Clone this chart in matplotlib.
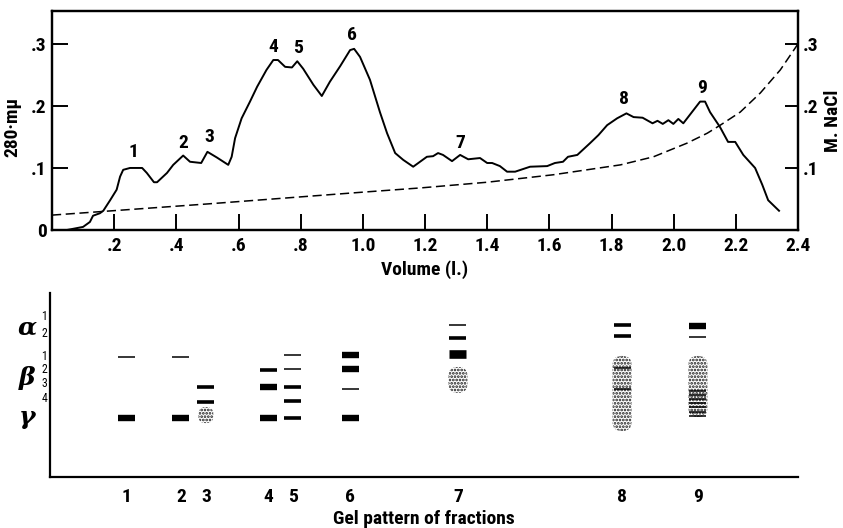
import matplotlib
matplotlib.use("Agg")
import matplotlib.pyplot as plt
from matplotlib.patches import FancyBboxPatch
from matplotlib import font_manager

# ---------------- data ----------------
# Absorbance at 280 mμ vs. elution volume (l.)
vol_a280 = [0.0, 0.048, 0.10, 0.122, 0.132, 0.154, 0.165, 0.187, 0.208, 0.219, 0.229,
            0.251, 0.29, 0.305, 0.328, 0.338, 0.37, 0.39, 0.422, 0.444, 0.48, 0.50,
            0.53, 0.567, 0.578, 0.589, 0.61, 0.637, 0.66, 0.69, 0.712, 0.727, 0.75,
            0.772, 0.789, 0.808, 0.841, 0.868, 0.894, 0.927, 0.959, 0.972, 0.991,
            1.023, 1.055, 1.078, 1.104, 1.13, 1.162, 1.184, 1.206, 1.226, 1.242,
            1.258, 1.287, 1.313, 1.339, 1.377, 1.40, 1.416, 1.441, 1.464, 1.49,
            1.538, 1.593, 1.618, 1.644, 1.66, 1.69, 1.731, 1.758, 1.786, 1.818,
            1.848, 1.871, 1.90, 1.932, 1.948, 1.965, 1.983, 1.999, 2.015, 2.031,
            2.085, 2.101, 2.117, 2.149, 2.175, 2.198, 2.224, 2.262, 2.285, 2.304, 2.339]
a280 = [0.0, 0.0, 0.005, 0.013, 0.023, 0.027, 0.031, 0.048, 0.065, 0.086, 0.097,
        0.100, 0.100, 0.092, 0.077, 0.077, 0.092, 0.105, 0.120, 0.110, 0.108, 0.126,
        0.117, 0.105, 0.118, 0.148, 0.180, 0.207, 0.231, 0.258, 0.274, 0.274, 0.263,
        0.262, 0.272, 0.260, 0.234, 0.216, 0.239, 0.264, 0.290, 0.292, 0.279,
        0.242, 0.190, 0.156, 0.124, 0.113, 0.102, 0.110, 0.118, 0.119, 0.124,
        0.121, 0.111, 0.121, 0.114, 0.116, 0.108, 0.108, 0.103, 0.094, 0.094,
        0.102, 0.103, 0.108, 0.110, 0.118, 0.121, 0.140, 0.153, 0.169, 0.180,
        0.188, 0.182, 0.181, 0.172, 0.176, 0.171, 0.177, 0.171, 0.179, 0.172,
        0.207, 0.207, 0.190, 0.166, 0.142, 0.142, 0.121, 0.100, 0.073, 0.048, 0.031]

# NaCl gradient (M) vs. volume (l.)
vol_nacl = [0.0, 0.5, 1.0, 1.19, 1.40, 1.612, 1.829, 1.935, 2.043, 2.108, 2.15,
            2.214, 2.279, 2.343, 2.40]
nacl = [0.024, 0.042, 0.061, 0.068, 0.077, 0.089, 0.105, 0.118, 0.140, 0.156, 0.169,
        0.190, 0.221, 0.258, 0.300]

# Peak labels (fraction numbers) and where they sit
peak_ids = ["1", "2", "3", "4", "5", "6", "7", "8", "9"]
peak_label_vol = [0.261, 0.421, 0.505, 0.711, 0.791, 0.965, 1.313, 1.840, 2.091]
peak_label_a280 = [0.126, 0.140, 0.150, 0.295, 0.294, 0.315, 0.140, 0.211, 0.229]

x_ticks = [0.2, 0.4, 0.6, 0.8, 1.0, 1.2, 1.4, 1.6, 1.8, 2.0, 2.2, 2.4]
x_tick_labels = [".2", ".4", ".6", ".8", "1.0", "1.2", "1.4", "1.6", "1.8", "2.0", "2.2", "2.4"]
y_ticks = [0.0, 0.1, 0.2, 0.3]
y_tick_labels = ["0", ".1", ".2", ".3"]
y2_ticks = [0.1, 0.2, 0.3]
y2_tick_labels = [".1", ".2", ".3"]

# Gel pattern: lane positions on the volume scale, bands as (mobility level, intensity)
fraction_vol = [0.241, 0.415, 0.495, 0.695, 0.775, 0.959, 1.306, 1.834, 2.078]
fraction_ids = ["1", "2", "3", "4", "5", "6", "7", "8", "9"]
gel_bands = [
    [(6.50, "thin"), (3.21, "thick")],
    [(6.50, "thin"), (3.21, "thick")],
    [(4.89, "medium"), (4.07, "medium")],
    [(5.82, "medium"), (4.89, "thick"), (3.21, "thick")],
    [(6.63, "thin"), (5.87, "thin"), (4.89, "medium"), (4.13, "medium"), (3.21, "medium")],
    [(6.63, "thick"), (5.87, "thick"), (4.78, "thin"), (3.21, "thick")],
    [(8.26, "thin"), (7.55, "medium"), (6.68, "heavy")],
    [(8.26, "medium"), (7.66, "medium"), (5.92, "thin"), (4.78, "thin")],
    [(8.21, "thick"), (7.61, "thin"), (4.67, "thin"), (4.46, "thin"), (4.24, "thin"),
     (4.02, "thin"), (3.80, "thin"), (3.53, "thin"), (3.32, "thin")],
]
# stippled (diffuse) zones: (lane index, upper level, lower level)
gel_smears = [(2, 3.80, 2.93), (6, 5.98, 4.57), (7, 6.58, 2.50), (8, 6.58, 3.26)]

# Component labels on the gel axis
greek_labels = ["α", "β", "γ"]
greek_levels = [8.15, 5.38, 3.26]
sub_labels = ["1", "2", "1", "2", "3", "4"]
sub_levels = [8.74, 7.80, 6.56, 5.84, 5.06, 4.27]

# ---------------- styling ----------------
names = {f.name for f in font_manager.fontManager.ttflist}
cond = None
for cand in ["Roboto Condensed", "PT Sans Narrow", "Archivo Narrow",
             "Liberation Sans Narrow", "Open Sans Condensed"]:
    if cand in names:
        cond = cand
        break
if cond is None:
    plt.rcParams["font.family"] = ["DejaVu Sans"]
    plt.rcParams["font.stretch"] = "condensed"
else:
    plt.rcParams["font.family"] = [cond, "DejaVu Sans"]
plt.rcParams["font.weight"] = "bold"
plt.rcParams["hatch.linewidth"] = 1.3

W, H = 843, 528
fig = plt.figure(figsize=(W / 100, H / 100), dpi=100)
fig.patch.set_facecolor("white")

def frac(l, t, r, b):
    return [l / W, 1 - b / H, (r - l) / W, (b - t) / H]

FS = 14

# ---------------- top panel ----------------
ax = fig.add_axes(frac(52, 11, 798, 230))
ax.plot(vol_a280, a280, color="black", lw=1.4, solid_joinstyle="round")
ax.set_xlim(0, 2.4)
ax.set_ylim(0, 0.353)
for s in ax.spines.values():
    s.set_linewidth(1.6)
ax.set_xticks(x_ticks, x_tick_labels)
ax.set_yticks(y_ticks, y_tick_labels)
ax.tick_params(axis="x", direction="in", length=11.5, width=1.4, pad=5, labelsize=FS)
ax.tick_params(axis="y", direction="in", length=11.5, width=1.4, pad=4, labelsize=FS)
ax.yaxis.get_major_ticks()[0].tick1line.set_visible(False)
ax.set_xlabel("Volume (l.)", fontsize=FS, fontweight="bold")
ax.xaxis.set_label_coords(0.5, -0.14)
ax.set_ylabel("280·mμ", fontsize=FS, fontweight="bold")
ax.yaxis.set_label_coords(-0.041, 0.47)

for pid, xv, yv in zip(peak_ids, peak_label_vol, peak_label_a280):
    ax.text(xv, yv, pid, ha="center", va="center", fontsize=FS, fontweight="bold")

ax2 = ax.twinx()
ax2.plot(vol_nacl, nacl, color="black", lw=1.1, dashes=(6, 3))
ax2.set_ylim(0, 0.353)
ax2.set_yticks(y2_ticks, y2_tick_labels)
ax2.tick_params(axis="y", direction="in", length=9.5, width=1.4, pad=3.5, labelsize=FS)
ax2.set_ylabel("M. NaCl", fontsize=FS, fontweight="bold", rotation=90)
ax2.yaxis.set_label_coords(1.035, 0.50)
for s in ax2.spines.values():
    s.set_linewidth(1.6)

# ---------------- bottom panel ----------------
bx = fig.add_axes(frac(50, 293, 798, 477))
bx.set_xlim(-2 / 310.8, 2.4)
bx.set_ylim(0, 10)
bx.spines["top"].set_visible(False)
bx.spines["right"].set_visible(False)
bx.spines["left"].set_linewidth(1.6)
bx.spines["bottom"].set_linewidth(1.6)
bx.set_yticks([])
bx.set_xticks(fraction_vol, fraction_ids)
bx.tick_params(axis="x", length=0, pad=8, labelsize=FS)
bx.set_xlabel("Gel pattern of fractions", fontsize=FS, fontweight="bold")
bx.xaxis.set_label_coords(0.5, -0.178)

fig.canvas.draw()
p0 = bx.transData.transform((0, 0))
p1 = bx.transData.transform((1, 1))
px_x = p1[0] - p0[0]
px_y = p1[1] - p0[1]
aspect = px_x / px_y

thick = {"thin": 1.1, "medium": 2.6, "thick": 4.6, "heavy": 6.2}
hw_band = 8.5 / px_x
for xv, bands in zip(fraction_vol, gel_bands):
    for lev, kind in bands:
        bx.hlines(lev, xv - hw_band, xv + hw_band, colors="black", lw=thick[kind],
                  capstyle="butt", zorder=4)

for lane, top, bot in gel_smears:
    xv = fraction_vol[lane]
    hw = (7.5 if lane == 2 else 9.5) / px_x
    p = FancyBboxPatch((xv - hw, bot), 2 * hw, top - bot,
                       boxstyle=f"round,pad=0,rounding_size={hw * 0.95}",
                       mutation_aspect=aspect, facecolor="white",
                       edgecolor="#1a1a1a", hatch=".....", lw=0, zorder=3)
    bx.add_patch(p)

ytr = bx.get_yaxis_transform()
for g, lev in zip(greek_labels, greek_levels):
    bx.text(-0.031, lev, g, transform=ytr, ha="center", va="center", fontsize=18,
            family="DejaVu Serif", style="italic", fontweight="bold")
for s, lev in zip(sub_labels, sub_levels):
    bx.text(-0.0075, lev, s, transform=ytr, ha="center", va="center", fontsize=8.5,
            fontweight="normal")

fig.savefig("out.png", dpi=100, facecolor="white")
